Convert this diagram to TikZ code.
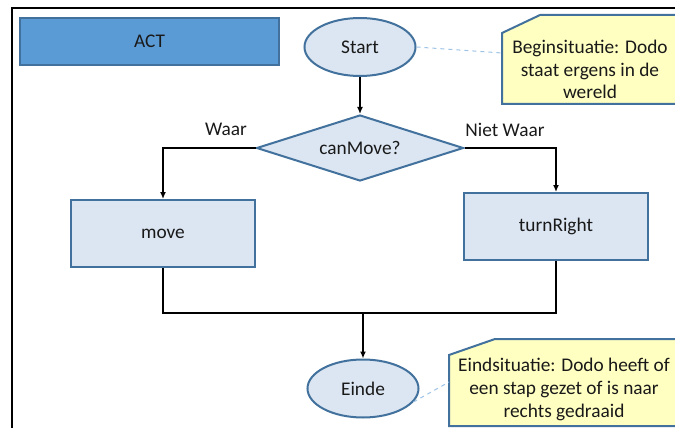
\documentclass[tikz,border=0pt]{standalone}
\usepackage{fontspec}
\setmainfont{Carlito}
\usetikzlibrary{shapes.geometric,arrows.meta}
\newlength{\du}
\setlength{\du}{0.75pt}
\definecolor{actfill}{RGB}{91,155,213}
\definecolor{shapeline}{RGB}{65,113,156}
\definecolor{shapefill}{RGB}{220,230,242}
\definecolor{notefill}{RGB}{255,255,194}
\definecolor{linkcolor}{RGB}{157,195,230}

\begin{document}
\begin{tikzpicture}[yscale=-1,
  every node/.style={font=\fontsize{14.5}{17}\selectfont, text=black!90},
  actbox/.style={draw=shapeline, fill=actfill, line width=1.5\du, inner sep=0pt,
    minimum width=259\du, minimum height=47\du},
  terminal/.style={ellipse, draw=shapeline, fill=shapefill, line width=2\du, inner sep=0pt,
    minimum width=111\du, minimum height=58\du},
  decision/.style={diamond, draw=shapeline, fill=shapefill, line width=2\du, inner sep=0pt,
    shape aspect=3, minimum width=207\du, minimum height=66\du},
  process/.style={rectangle, draw=shapeline, fill=shapefill, line width=2\du, inner sep=0pt,
    minimum width=184\du, minimum height=67\du},
  notebox/.style={draw=shapeline, fill=notefill, line width=2\du},
  notelink/.style={draw=linkcolor, dashed, line width=1\du},
  wire/.style={draw=black, line width=2\du},
  flow/.style={wire, -{Latex[length=5.25pt,width=4.5pt]}}]
\useasboundingbox (0,0) rectangle (675\du,428\du);
\clip (0,0) rectangle (675\du,428\du);
% frame
\draw[line width=2\du] (12\du,440\du) -- (12\du,8\du) -- (690\du,8\du);
% notes
\draw[notebox] (502\du,33\du) -- (540\du,15\du) -- (690\du,15\du) -- (690\du,104\du) -- (502\du,104\du) -- cycle;
\draw[notebox] (449\du,355\du) -- (495\du,339\du) -- (690\du,339\du) -- (690\du,426\du) -- (449\du,426\du) -- cycle;
\node[align=center] (begintext) at (590\du,69.5\du) {Beginsituatie: Dodo\\staat ergens in de\\wereld};
\node[align=center] (eindtext) at (564\du,389.5\du) {Eindsituatie: Dodo heeft of\\een stap gezet of is naar\\rechts gedraaid};
\coordinate (beginhook) at (502\du,53\du);
\coordinate (eindhook) at (449\du,382\du);
% shapes
\node[actbox] (act) at (149.5\du,41.5\du) {ACT};
\node[terminal] (start) at (360\du,47\du) {Start};
\node[decision] (cond) at (360\du,148\du) {canMove?};
\node[process] (move) at (163\du,233.5\du) {move};
\node[process] (turn) at (556\du,226.5\du) {turnRight};
\node[terminal] (einde) at (363\du,388.5\du) {Einde};
\coordinate (join) at (363\du,313\du);
% labels
\node (waar) at (226\du,129\du) {Waar};
\node (nietwaar) at (505\du,130\du) {Niet Waar};
% connectors
\draw[flow] (start) -- (cond);
\draw[flow] (cond.west) -| (move.north);
\draw[flow] (cond.east) -| (turn.north);
\draw[wire] (move.south) -- (move.south |- join) -- (turn.south |- join) -- (turn.south);
\draw[flow] (join) -- (einde);
\draw[notelink] (start.east) -- (beginhook);
\draw[notelink] (einde.-15) -- (eindhook);
\end{tikzpicture}
\end{document}
